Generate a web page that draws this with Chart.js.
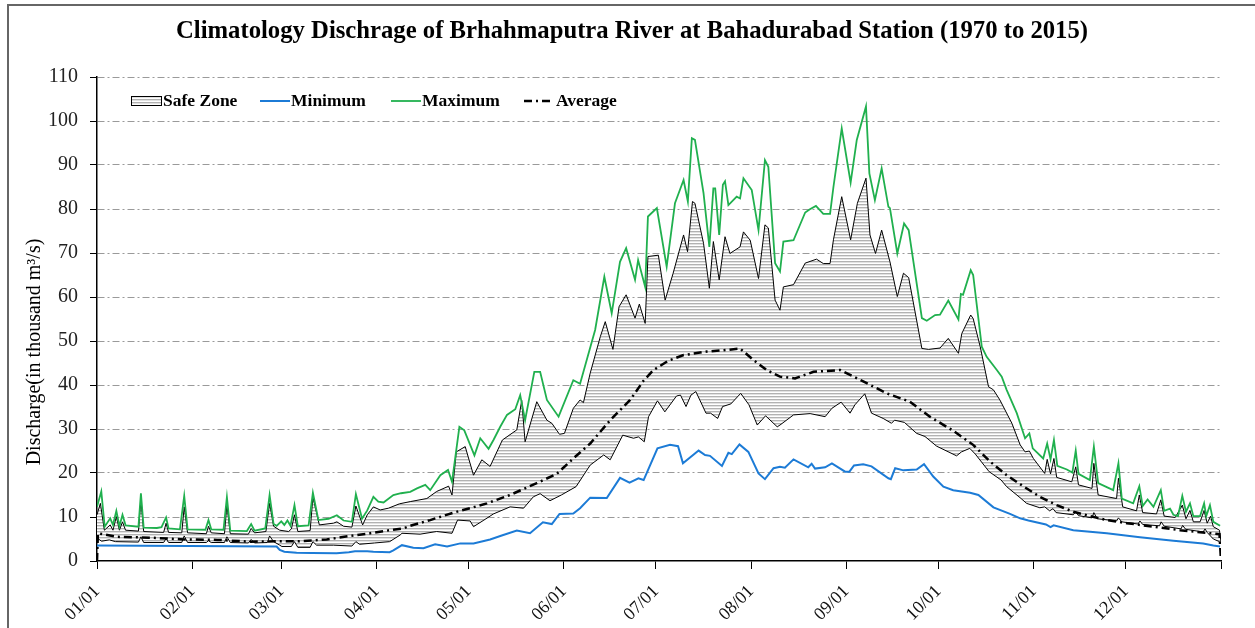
<!DOCTYPE html>
<html>
<head>
<meta charset="utf-8">
<script src="https://cdn.jsdelivr.net/npm/chart.js@4.4.1/dist/chart.umd.min.js"></script>
<style>
  body { margin: 0; background: #fff; overflow: hidden; }
  #wrap { position: relative; width: 1255px; height: 628px; }
  #frame { position: absolute; left: 7px; top: 4px; width: 1300px; height: 700px; border: 2px solid #666; pointer-events: none; }
</style>
</head>
<body>
<div id="wrap">
  <canvas id="chart" width="1255" height="628"></canvas>
  <div id="frame"></div>
</div>
<script>
// x axis: day of (leap) year, 0 = 01/01
const monthStarts = [0, 31, 60, 91, 121, 152, 182, 213, 244, 274, 305, 335, 366];
const monthLabels = ['01/01', '02/01', '03/01', '04/01', '05/01', '06/01', '07/01', '08/01', '09/01', '10/01', '11/01', '12/01', ''];

// Maximum
const maxDay = [0, 1.4, 2.5, 4.3, 5.2, 6.3, 7.3, 8.3, 9.3, 13.5, 14.3, 15.2, 19.5, 21, 22.5, 23.3, 27, 28.4, 29.5, 35.3, 36.3, 37.2,
  41.2, 42.3, 43.4, 48.8, 50.2, 51.3, 54.8, 56.2, 57.5, 58.5, 60, 61, 62, 63, 64.3, 65.4, 68.9, 70.3, 72.1, 75.4, 78.1, 80.3, 83,
  84.3, 86.3, 88, 90, 91.6, 93.3, 96.5, 99, 102, 104.2, 106.9, 108.5, 111.8, 114.3, 115.6, 118, 119.6, 122.9, 124.8, 127.5, 129.1,
  131.3, 133.5, 136.2, 137.8, 139.4, 142.4, 144.3, 146.5, 150.3, 155.1, 157.3, 162.2, 165.2, 167.6, 170.3, 172.3, 175.2, 176.2,
  178.5, 179.4, 182.3, 185.5, 188.2, 191, 192.4, 193.7, 194.7, 197.5, 199.4, 200.7, 201.3, 202.6, 203.8, 204.5, 205.6, 208.3,
  209.4, 210.5, 213.2, 215.4, 217.5, 218.6, 220.8, 222.4, 223.5, 226.8, 230.6, 232, 234.1, 236.5, 238.7, 239.8, 242.5, 245.4,
  247.4, 250.4, 251.5, 253.3, 255.5, 257.7, 258.2, 260.6, 262.8, 264.3, 268.6, 270.2, 272.9, 274.5, 277.2, 280.5, 281.3, 282,
  284.5, 285.3, 288.1, 289.7, 293, 294.6, 296.2, 299.5, 302.2, 303.6, 304.7, 308.1, 309.4, 310.5, 311.6, 312.7, 315.8, 317.6,
  318.7, 319.6, 323.3, 324.6, 326, 330.9, 332.6, 333.7, 337.4, 339.4, 340.5, 342.1, 344, 346.4, 347.5, 349.4, 350.5, 352, 353.4,
  354.6, 355.9, 357, 359.2, 360.5, 361.2, 362.4, 363.5, 365.7];
const maxVal = [12.3, 15.8, 7.8, 9.7, 8.2, 11.4, 7.9, 10.5, 8.1, 7.8, 15.4, 7.6, 7.5, 7.7, 9.9, 7.4, 7.2, 14.8, 7.2, 7.1, 9.3, 7.2,
  7.1, 14.5, 6.9, 6.8, 8.4, 6.9, 7.4, 15.0, 8.4, 8.0, 9.0, 8.2, 9.2, 8.0, 12.7, 7.9, 8.1, 15.5, 9.3, 9.6, 10.4, 9.2, 8.9,
  15.2, 9.6, 11.5, 14.6, 13.5, 13.3, 15.0, 15.4, 15.7, 16.5, 17.3, 16.1, 19.5, 20.7, 18.0, 30.5, 29.7, 24.0, 27.9, 25.5, 27.5,
  30.5, 33.2, 34.5, 37.7, 32.0, 43.0, 43.0, 36.6, 32.8, 41.1, 40.3, 52.5, 64.6, 56.3, 68.0, 71.1, 63.9, 68.4,
  62.3, 78.3, 80.2, 66.9, 81.3, 86.6, 81.7, 96.1, 95.7, 83.6, 71.4, 84.7, 84.7, 74.1, 85.5, 86.3, 80.9, 82.8,
  82.4, 87.0, 84.3, 75.2, 91.1, 89.6, 67.7, 65.8, 72.6, 72.9, 79.2, 79.9, 80.7, 78.9, 78.9, 85.0, 98.3, 86.0,
  95.7, 103.3, 88.1, 82.0, 89.2, 80.5, 80.2, 69.9, 76.7, 75.2, 55.2, 54.6, 55.9, 56.0, 59.2, 54.9, 60.7, 60.5,
  66.1, 65.0, 48.7, 46.4, 43.4, 41.9, 38.9, 33.6, 27.9, 29.0, 25.6, 23.3, 26.7, 23.1, 27.5, 21.6, 20.8, 20.1,
  25.1, 19.8, 18.4, 26.0, 17.7, 16.1, 22.2, 14.2, 13.1, 17.0, 12.5, 14.0, 12.3, 16.1, 11.4, 11.9, 10.5, 10.2, 14.8,
  11.2, 13.1, 10.2, 10.2, 13.1, 10.2, 12.7, 8.9, 8.0];

// Safe zone, upper edge
const upDay = [0, 1.1, 2.4, 4.3, 5.2, 6.3, 7.3, 8.3, 9.3, 13.5, 14.3, 15.2, 21.7, 22.5, 23.3, 27.6, 28.4, 29.5, 35.6, 36.3, 37.2,
  41.5, 42.3, 43.4, 49.3, 50.2, 51.3, 55, 56.2, 57.5, 59.5, 62.4, 63.3, 64.3, 65.4, 69.4, 70.3, 72.4, 77, 78.1, 80.3, 83, 84.3,
  86.5, 88, 90, 92.2, 94.9, 98.5, 102, 107.4, 110.6, 114.5, 115.6, 117, 119.9, 122.6, 125.3, 128, 132, 136.7, 138.3, 139.4,
  143.2, 146.5, 148.1, 150.6, 152.2, 155.1, 157.3, 158.4, 160.6, 163.9, 165.5, 168, 170, 172.3, 175.2, 176.6, 178.5, 179.4,
  182.8, 185, 187.6, 191, 192.3, 193.9, 194.7, 197.5, 199.4, 200.7, 202.6, 204.5, 206.1, 209.4, 210.5, 212.7, 215.4, 217.5,
  218.6, 220.8, 222.4, 223.5, 226.8, 230.6, 234.3, 236.5, 238.7, 239.8, 242.5, 245.4, 247.6, 250.4, 251.7, 253.5, 255.5,
  258.2, 260.6, 262.6, 264.3, 268.6, 270.8, 274.5, 277.2, 280.5, 281.6, 284.5, 285.3, 287.6, 290.3, 291.9, 294, 297.9,
  300.6, 302.2, 303.6, 304.9, 308.6, 309.4, 310.5, 311.6, 312.5, 317.4, 318.7, 319.6, 324, 324.6, 326, 332, 332.6, 334,
  338.5, 339.4, 340.5, 345, 346.4, 347.5, 351.1, 353.4, 354.6, 355.9, 357, 359.2, 360.5, 361.5, 362.6, 363.5, 365.5, 366];
const upVal = [10.5, 13.1, 7.0, 8.2, 7.0, 10.1, 7.0, 8.9, 7.0, 6.8, 13.9, 6.7, 6.5, 8.6, 6.5, 6.4, 12.3, 6.4, 6.2, 7.9, 6.4,
  6.2, 12.7, 6.2, 6.1, 7.4, 6.4, 6.7, 13.1, 7.9, 7.0, 6.7, 7.3, 10.5, 6.7, 6.9, 14.5, 8.2, 8.6, 8.9, 7.9, 7.7, 12.5,
  8.2, 10.5, 12.3, 11.6, 12.0, 13.0, 13.5, 14.2, 15.8, 17.0, 15.0, 24.8, 26.0, 19.5, 23.0, 21.5, 27.5, 29.8, 36.5, 27.1,
  36.2, 32.0, 31.3, 28.8, 29.0, 34.7, 36.6, 36.0, 42.7, 51.0, 54.4, 48.1, 57.8, 60.5, 55.2, 58.4, 54.0, 69.2,
  69.5, 59.3, 65.4, 74.1, 70.3, 81.7, 81.3, 72.2, 62.0, 72.6, 63.9, 73.7, 69.9, 71.4, 74.8, 72.9, 64.2, 76.4,
  75.7, 59.3, 57.0, 62.3, 62.8, 67.7, 68.6, 67.6, 67.6, 73.0, 82.8, 73.0, 81.3, 87.0, 74.1, 69.9, 75.2,
  68.0, 60.1, 65.4, 64.4, 48.3, 48.1, 48.4, 50.6, 47.2, 51.7, 55.9, 55.1, 48.7, 39.6, 38.9, 36.6, 31.3,
  26.4, 24.8, 25.0, 23.3, 19.9, 23.1, 19.8, 23.3, 19.0, 18.0, 21.4, 17.3, 16.5, 22.2, 15.0, 14.2, 18.8, 12.3,
  11.4, 15.0, 11.0, 10.7, 13.9, 10.2, 9.9, 12.7, 9.6, 11.5, 8.9, 8.9, 11.5, 8.6, 10.2, 7.8, 7.0, 4.3];

// Safe zone, lower edge
const lowDay = [0, 1.5, 4, 6, 13.5, 14.3, 15.2, 21.7, 22.5, 23.3, 27.6, 28.4, 29.5, 35.6, 36.3, 37.2, 41.5, 42.3, 43.4, 49.3,
  50.2, 51.3, 55.5, 56.2, 57.5, 59.5, 60.2, 63.3, 64.3, 65.4, 69.4, 70.3, 71.5, 77, 83, 84.3, 85.5, 90.4, 95.3, 98.7, 99.3,
  105.2, 110.6, 115.6, 117.4, 121.5, 122.6, 126, 129.1, 134.5, 138.9, 142.1, 144.3, 147.5, 151.2, 156, 160.6, 165, 167.1,
  171.2, 174.7, 176.3, 178.2, 179.6, 182.5, 184.9, 188.7, 190, 191.8, 193.4, 195, 198.3, 199.8, 202.1, 203.7, 206.4, 209.6,
  212.3, 215, 217.7, 221.5, 222.4, 226.8, 232.2, 237.1, 239.3, 242.3, 245.2, 246.8, 250, 252.2, 256, 258.7, 259.7, 262.9,
  266.9, 269.6, 273.4, 279.9, 281.5, 284.2, 286, 290.5, 294.4, 296.2, 300.9, 302.7, 307, 308.6, 310.2, 311.3, 312.3, 317.9,
  318.7, 319.6, 324, 324.6, 325.7, 332, 332.6, 333.7, 339, 339.6, 340.5, 346, 346.5, 347.5, 353, 353.5, 354.5, 360.2, 360.8,
  361.5, 363.5, 365.5, 366];
const lowVal = [5.2, 4.5, 4.8, 4.4, 4.3, 5.5, 4.2, 4.2, 5.1, 4.2, 4.2, 5.7, 4.2, 4.2, 4.6, 4.2, 4.2, 5.5, 4.2, 4.1,
  4.9, 4.1, 4.2, 5.7, 4.4, 3.6, 3.3, 3.3, 4.4, 3.1, 3.1, 4.4, 3.6, 3.6, 3.4, 4.4, 3.8, 4.1, 4.4, 5.9, 6.3,
  6.1, 6.7, 6.3, 9.3, 9.1, 7.8, 9.3, 10.7, 12.3, 12.0, 14.6, 15.3, 13.7, 15.0, 16.9, 21.8, 24.1, 23.0,
  28.6, 27.9, 28.2, 27.1, 32.8, 36.4, 33.9, 37.5, 37.7, 35.1, 37.7, 38.5, 33.6, 33.6, 32.4, 35.1, 35.7, 38.1,
  35.5, 30.9, 33.0, 30.5, 30.9, 33.2, 33.5, 32.8, 34.7, 36.1, 33.6, 35.5, 38.0, 33.6, 32.4, 31.3, 32.0, 31.5,
  29.0, 28.3, 26.1, 23.9, 24.8, 25.6, 24.3, 20.3, 18.4, 16.9, 14.2, 13.1, 12.1, 12.3, 11.4, 11.9, 11.0, 10.5,
  11.2, 10.3, 9.8, 11.0, 9.6, 9.1, 9.8, 8.9, 8.4, 9.1, 8.3, 8.0, 8.9, 7.9, 7.3, 8.1, 7.2, 6.6, 7.3,
  6.5, 5.0, 4.4, 4.3];

// Minimum
const minDay = [0, 30, 58.5, 59.5, 61, 65, 70, 78, 82, 84, 88, 90, 95.3, 96.5, 99.3, 103, 106.3, 110.1, 114, 118.3, 122.6, 128,
  131.8, 136.7, 141, 145.2, 148.1, 150.6, 155.1, 157.3, 160.6, 166, 170.3, 173.4, 176.3, 178, 182.5, 186.6, 189.2, 190.8,
  195.9, 198, 199.6, 203.5, 205.6, 206.7, 209.2, 212.1, 215.4, 217.5, 220.3, 222.4, 224, 226.8, 231.6, 232.7, 233.8, 237.1,
  239.3, 243.6, 245, 246.5, 249.5, 252.2, 257.7, 258.5, 259.9, 262.6, 266.9, 269.3, 272.3, 275.6, 278.8, 284.3, 287, 291.9,
  297.3, 300.6, 303.3, 309, 310.5, 311.5, 317.9, 328.8, 339.6, 350.5, 360.2, 363.5, 365.7];
const minVal = [3.5, 3.4, 3.3, 2.5, 2.1, 1.9, 1.8, 1.75, 2.0, 2.2, 2.2, 2.1, 2.0, 2.4, 3.6, 3.0, 2.9, 3.8, 3.3, 4.0, 4.0, 4.9,
  5.8, 6.9, 6.3, 8.8, 8.4, 10.7, 10.8, 12.0, 14.4, 14.3, 18.9, 17.8, 18.8, 18.4, 25.6, 26.4, 26.1, 22.2,
  25.1, 24.1, 23.9, 21.6, 24.6, 24.3, 26.5, 24.8, 19.9, 18.6, 21.1, 21.4, 21.2, 23.1, 21.3, 22.1, 21.0, 21.3,
  22.2, 20.3, 20.3, 21.7, 22.0, 21.5, 18.8, 18.6, 21.1, 20.6, 20.8, 22.0, 19.2, 16.9, 16.1, 15.5, 15.0, 12.2,
  10.7, 9.7, 9.2, 8.3, 7.7, 8.1, 7.0, 6.3, 5.4, 4.6, 4.0, 3.5, 3.3];

// Average
const avgDay = [0, 0.3, 2, 6.5, 17.4, 28.3, 39.2, 50, 60, 66, 74.8, 82.5, 88, 93.3, 99.8, 102, 108.5, 116.1, 121.5, 127, 134.5,
  143.2, 149.7, 155.1, 160.6, 167.1, 173.6, 178, 181.2, 186, 191, 198.6, 205.6, 209.4, 213.7, 218.1, 222.4, 227.3, 233.3, 242,
  249.5, 257.2, 264.7, 271.2, 278.8, 285.3, 290.8, 296.2, 301.6, 307, 312.5, 317.9, 323.3, 328.8, 335.3, 344, 352.6, 361.3,
  365.5, 366];
const avgVal = [0, 6.3, 6.1, 5.5, 5.3, 4.9, 4.8, 4.4, 4.5, 4.5, 4.9, 5.7, 6.2, 6.8, 7.4, 8.0, 9.3, 11.0, 12.0, 13.1, 15.0,
  17.7, 19.8, 23.3, 26.7, 32.0, 36.6, 41.0, 43.4, 45.5, 46.8, 47.6, 48.0, 48.3, 45.7, 43.4, 41.9, 41.5, 43.0, 43.4,
  40.8, 38.1, 36.2, 32.8, 29.6, 26.4, 22.6, 19.5, 17.0, 14.6, 12.7, 11.2, 10.2, 9.3, 8.6, 7.8, 7.0, 6.4,
  6.1, 0];

const yTicks = [0, 10, 20, 30, 40, 50, 60, 70, 80, 90, 100, 110];

const GREEN = '#20b04e';
const BLUE = '#1c7bd6';
const AVG_DASH = [8, 4, 2, 4];
const SERIF = '"Liberation Serif", "Times New Roman", serif';

function pts(days, vals) {
  return days.map((d, i) => ({ x: d, y: vals[i] }));
}

// horizontal hatch for the safe zone
function makeHatch() {
  const c = document.createElement('canvas');
  c.width = 4; c.height = 3;
  const g = c.getContext('2d');
  g.fillStyle = '#ffffff'; g.fillRect(0, 0, 4, 3);
  g.fillStyle = '#b2b2b2'; g.fillRect(0, 0, 4, 1);
  g.fillStyle = '#e2e2e2'; g.fillRect(0, 1, 4, 1);
  return g.createPattern(c, 'repeat');
}

const hatch = makeHatch();

// title, y-axis title and legend drawn inside the plot like the original
const decorations = {
  id: 'decorations',
  afterDraw(chart) {
    const ctx = chart.ctx;
    const ds = chart.data.datasets;
    ctx.save();
    ctx.fillStyle = '#000';
    ctx.textBaseline = 'middle';

    ctx.font = 'bold 24.7px ' + SERIF;
    ctx.textAlign = 'center';
    ctx.fillText('Climatology Dischrage of Brhahmaputra River at Bahadurabad Station (1970 to 2015)', 632, 32);

    ctx.save();
    ctx.translate(35, 352);
    ctx.rotate(-Math.PI / 2);
    ctx.font = '20px ' + SERIF;
    ctx.fillText('Discharge(in thousand m³/s)', 0, 0);
    ctx.restore();

    // legend
    const ly = 101;
    ctx.font = 'bold 17.5px ' + SERIF;
    ctx.textAlign = 'left';

    ctx.fillStyle = hatch;
    ctx.fillRect(131, 96, 30, 9);
    ctx.strokeStyle = '#000';
    ctx.lineWidth = 1;
    ctx.strokeRect(131.5, 96.5, 30, 9);
    ctx.fillStyle = '#000';
    ctx.fillText(ds[3].label, 163, ly);

    const lineItem = (x, d, tx) => {
      ctx.beginPath();
      ctx.strokeStyle = d.borderColor;
      ctx.lineWidth = d.borderWidth;
      ctx.setLineDash(d.borderDash || []);
      ctx.moveTo(x, ly);
      ctx.lineTo(x + 30, ly);
      ctx.stroke();
      ctx.setLineDash([]);
      ctx.fillText(d.label, tx, ly);
    };
    lineItem(260, ds[2], 291);
    lineItem(391, ds[1], 422);
    lineItem(524, ds[0], 556);
    ctx.restore();
  }
};

const chart = new Chart(document.getElementById('chart'), {
  type: 'line',
  data: {
    datasets: [
      {
        label: 'Average',
        data: pts(avgDay, avgVal),
        borderColor: '#000',
        borderWidth: 2.5,
        borderDash: AVG_DASH,
        pointRadius: 0,
        fill: false,
        order: 0
      },
      {
        label: 'Maximum',
        data: pts(maxDay, maxVal),
        borderColor: GREEN,
        borderWidth: 1.8,
        pointRadius: 0,
        fill: false,
        order: 1
      },
      {
        label: 'Minimum',
        data: pts(minDay, minVal),
        borderColor: BLUE,
        borderWidth: 2,
        pointRadius: 0,
        fill: false,
        order: 2
      },
      {
        label: 'Safe Zone',
        data: pts(upDay, upVal),
        borderColor: '#000',
        borderWidth: 1,
        pointRadius: 0,
        backgroundColor: hatch,
        fill: '+1',
        order: 4
      },
      {
        label: 'Safe Zone lower',
        data: pts(lowDay, lowVal),
        borderColor: '#000',
        borderWidth: 1,
        pointRadius: 0,
        fill: false,
        order: 3
      }
    ]
  },
  options: {
    responsive: false,
    animation: false,
    layout: { padding: { left: 0, right: 34, top: 77, bottom: 0 } },
    plugins: {
      legend: { display: false },
      title: { display: false },
      tooltip: { enabled: false }
    },
    scales: {
      x: {
        type: 'linear',
        min: 0,
        max: 366,
        afterBuildTicks: (s) => { s.ticks = monthStarts.map(v => ({ value: v })); },
        afterFit: (s) => { s.height = 67; },
        ticks: {
          autoSkip: false,
          maxRotation: 45,
          minRotation: 45,
          padding: 12,
          color: '#111',
          font: { family: SERIF, size: 18 },
          callback: (v) => monthLabels[monthStarts.indexOf(v)]
        },
        grid: { drawOnChartArea: false, tickLength: 8, tickColor: '#000', tickWidth: 1, tickBorderDash: [] },
        border: { color: '#000', width: 1.5 }
      },
      y: {
        min: 0,
        max: 110,
        afterBuildTicks: (s) => { s.ticks = yTicks.map(v => ({ value: v })); },
        afterFit: (s) => { s.width = 97; },
        ticks: {
          padding: 12,
          color: '#222',
          font: { family: SERIF, size: 20 }
        },
        grid: {
          color: (c) => c.tick && c.tick.value === 0 ? 'rgba(0,0,0,0)' : '#9a9a9a',
          lineWidth: 1,
          tickLength: 7,
          tickColor: '#000',
          tickWidth: 1,
          tickBorderDash: []
        },
        border: { color: '#000', width: 1.5, dash: [7, 3, 2, 3] }
      }
    }
  },
  plugins: [decorations]
});
</script>
</body>
</html>
